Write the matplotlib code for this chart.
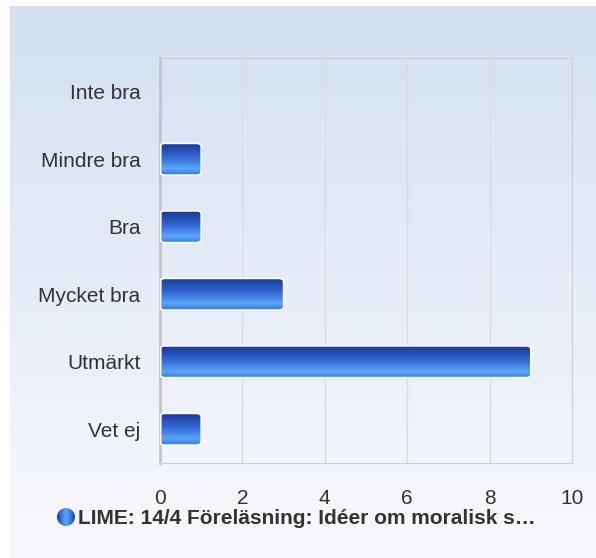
import numpy as np
import matplotlib.pyplot as plt
from matplotlib.colors import LinearSegmentedColormap
from matplotlib.patches import FancyBboxPatch, Circle

plt.rcParams['font.family'] = 'Liberation Sans'

categories = ['Inte bra', 'Mindre bra', 'Bra', 'Mycket bra', 'Utmärkt', 'Vet ej']
values = [0, 1, 1, 3, 9, 1]
xticks = [0, 2, 4, 6, 8, 10]
legend_label = 'LIME: 14/4 Föreläsning: Idéer om moralisk s…'

W, H = 596, 558
fig = plt.figure(figsize=(W / 100, H / 100), dpi=100)
fig.patch.set_facecolor('white')

# background gradient panel
bg = fig.add_axes([10 / W, 0, 1 - 10 / W, 1 - 6 / H])
bg_cmap = LinearSegmentedColormap.from_list('bg', ['#d4e0f1', '#f8f9fd'])
bg.imshow(np.linspace(0, 1, 256).reshape(-1, 1), aspect='auto', cmap=bg_cmap,
          extent=[0, 1, 0, 1], origin='upper')
bg.set_axis_off()

# plot area
left, right, top, bottom = 160, 572, 58, 463
ax = fig.add_axes([left / W, 1 - bottom / H, (right - left) / W, (bottom - top) / H])
ax.patch.set_alpha(0)
ax.set_xticks(xticks)
ax.set_xticklabels([str(t) for t in xticks])
ax.set_yticks(range(len(categories)))
ax.set_yticklabels(categories)
ax.tick_params(length=0, labelsize=15, colors='#333333')
ax.tick_params(axis='y', pad=14)
ax.tick_params(axis='x', pad=19)
ax.grid(axis='x', color='#dcdcdc', lw=1)
ax.set_axisbelow(True)
for s in ['top', 'right', 'bottom']:
    ax.spines[s].set_color('#d0d0d0')
ax.spines['left'].set_color('#c4c4c4')
ax.spines['left'].set_linewidth(2)

bar_cmap = LinearSegmentedColormap.from_list(
    'bar', [(0, '#173a98'), (0.45, '#3368d2'), (0.8, '#5aa6fb'), (1, '#3a78d8')])
grad = np.linspace(0, 1, 100).reshape(-1, 1)
bh = 0.47
for i, v in enumerate(values):
    if v <= 0:
        continue
    patch = FancyBboxPatch((0, i - bh / 2), v, bh,
                           boxstyle='round,pad=0,rounding_size=0.12',
                           mutation_aspect=1 / 2.4,
                           fc='none', ec='white', lw=1.2, zorder=3)
    ax.add_patch(patch)
    im = ax.imshow(grad, aspect='auto', cmap=bar_cmap,
                   extent=[0, v, i + bh / 2, i - bh / 2], origin='upper', zorder=2)
    im.set_clip_path(patch)
ax.set_xlim(0, 10)
ax.set_ylim(len(categories) - 0.5, -0.5)

# legend
lax = fig.add_axes([0, 0, 1, 1])
lax.set_axis_off()
cx, cy, r = 66, 517, 9
circ = Circle((cx, cy), r, fc='none', ec='none')
lax.add_patch(circ)
lg_cmap = LinearSegmentedColormap.from_list(
    'lg', ['#173a98', '#3a7ae0', '#5aa6fb', '#3a7ae0', '#1c46a8'])
cim = lax.imshow(np.linspace(0, 1, 100).reshape(1, -1), aspect='auto', cmap=lg_cmap,
                 extent=[cx - r, cx + r, cy + r, cy - r])
cim.set_clip_path(circ)
lax.text(cx + r + 3, cy + 1, legend_label, fontsize=15, fontweight='bold',
         color='#333333', va='center', ha='left')
lax.set_xlim(0, W)
lax.set_ylim(H, 0)

fig.savefig('out.png', dpi=100)
